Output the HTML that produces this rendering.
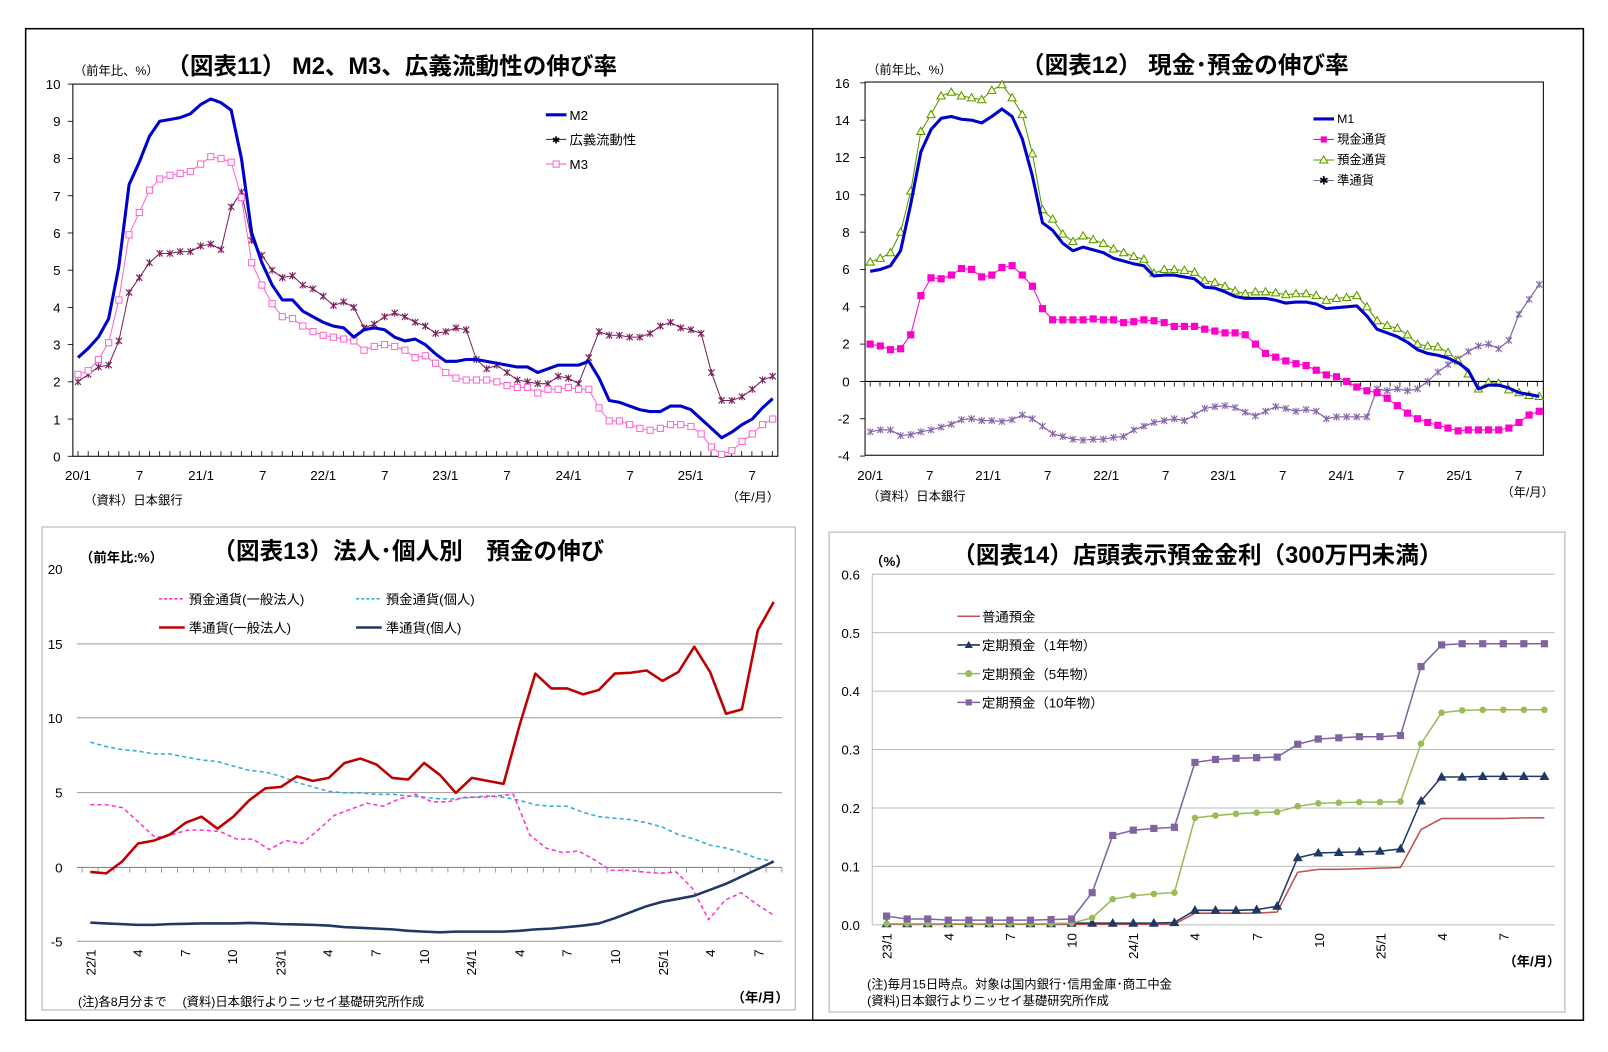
<!DOCTYPE html>
<html><head><meta charset="utf-8"><style>
html,body{margin:0;padding:0;background:#fff;}
svg{display:block;}
text{font-family:"Liberation Sans","Noto Sans CJK JP",sans-serif;fill:#000;}
.t{font-size:23px;font-weight:bold;}
.s{font-size:12px;}
.m{font-size:13px;}
.b{font-weight:bold;}
</style></head><body>
<svg id="svg" width="1608" height="1052" viewBox="0 0 1567 1026" preserveAspectRatio="none" xmlns="http://www.w3.org/2000/svg">
<rect x="0" y="0" width="1567" height="1026" fill="#fff"/>
<rect x="25" y="28" width="1518" height="967" fill="none" stroke="#000" stroke-width="1.5"/>
<line x1="792" y1="28" x2="792" y2="995" stroke="#000" stroke-width="1.2"/>

<!-- Chart 11 -->
<rect x="71" y="82" width="687" height="363" fill="none" stroke="#000" stroke-width="1"/>
<text x="162" y="72" class="t">（図表11） M2、M3、広義流動性の伸び率</text>
<text x="72" y="73" class="s">（前年比、%）</text>
<g class="m" text-anchor="end">
<text x="59" y="450">0</text><text x="59" y="414">1</text><text x="59" y="377">2</text><text x="59" y="341">3</text><text x="59" y="305">4</text><text x="59" y="268">5</text><text x="59" y="232">6</text><text x="59" y="196">7</text><text x="59" y="159">8</text><text x="59" y="123">9</text><text x="59" y="87">10</text>
</g>
<g class="m" text-anchor="middle">
<text x="76" y="468">20/1</text><text x="136" y="468">7</text><text x="196" y="468">21/1</text><text x="256" y="468">7</text><text x="315" y="468">22/1</text><text x="375" y="468">7</text><text x="434" y="468">23/1</text><text x="494" y="468">7</text><text x="554" y="468">24/1</text><text x="614" y="468">7</text><text x="673" y="468">25/1</text><text x="733" y="468">7</text>
</g>
<text x="82" y="492" class="s">（資料）日本銀行</text>
<text x="708" y="489" class="s">（年/月）</text>
<g class="m">
<line x1="532" y1="112" x2="552" y2="112" stroke="#0000cc" stroke-width="3"/><text x="555" y="117">M2</text>
<line x1="532" y1="136" x2="552" y2="136" stroke="#7a1f5c" stroke-width="1"/><text x="542" y="140" font-size="10" fill="#7a1f5c" text-anchor="middle">✱</text><text x="555" y="141">広義流動性</text>
<line x1="532" y1="160" x2="552" y2="160" stroke="#ff66cc" stroke-width="1"/><rect x="539" y="157" width="6" height="6" fill="#fff" stroke="#ff66cc"/><text x="555" y="165">M3</text>
</g>
<g id="c11"></g>

<!-- Chart 12 -->
<rect x="843" y="80" width="661" height="364" fill="none" stroke="#000" stroke-width="1"/>
<text x="995" y="71" class="t">（図表12） 現金･預金の伸び率</text>
<text x="845" y="72" class="s">（前年比、%）</text>
<g class="m" text-anchor="end">
<text x="828" y="449">-4</text><text x="828" y="413">-2</text><text x="828" y="377">0</text><text x="828" y="340">2</text><text x="828" y="304">4</text><text x="828" y="267">6</text><text x="828" y="231">8</text><text x="828" y="195">10</text><text x="828" y="158">12</text><text x="828" y="122">14</text><text x="828" y="86">16</text>
</g>
<g class="m" text-anchor="middle">
<text x="848" y="468">20/1</text><text x="906" y="468">7</text><text x="963" y="468">21/1</text><text x="1021" y="468">7</text><text x="1078" y="468">22/1</text><text x="1136" y="468">7</text><text x="1192" y="468">23/1</text><text x="1250" y="468">7</text><text x="1307" y="468">24/1</text><text x="1365" y="468">7</text><text x="1422" y="468">25/1</text><text x="1480" y="468">7</text>
</g>
<text x="845" y="488" class="s">（資料）日本銀行</text>
<text x="1463" y="484" class="s">（年/月）</text>
<g class="s">
<line x1="1280" y1="116" x2="1300" y2="116" stroke="#0000cc" stroke-width="3"/><text x="1303" y="120">M1</text>
<line x1="1280" y1="136" x2="1300" y2="136" stroke="#ff00cc"/><rect x="1287" y="133" width="6" height="6" fill="#ff00cc"/><text x="1303" y="140">現金通貨</text>
<line x1="1280" y1="156" x2="1300" y2="156" stroke="#559900"/><polygon points="1290,152 1294,159 1286,159" fill="#ffffcc" stroke="#559900"/><text x="1303" y="160">預金通貨</text>
<line x1="1280" y1="176" x2="1300" y2="176" stroke="#8866aa"/><text x="1290" y="180" font-size="11" fill="#8866aa" text-anchor="middle">✱</text><text x="1303" y="180">準通貨</text>
</g>
<g id="c12"></g>

<!-- Chart 13 -->
<rect x="41" y="514" width="734" height="471" fill="none" stroke="#bbb" stroke-width="1.2"/>
<text x="207" y="545" class="t" font-size="22">（図表13）法人･個人別　預金の伸び</text>
<text x="78" y="548" class="m b">（前年比:%）</text>
<g stroke="#999" stroke-width="1">
<line x1="75" y1="628" x2="762" y2="628"/><line x1="75" y1="700" x2="762" y2="700"/><line x1="75" y1="773" x2="762" y2="773"/><line x1="75" y1="918" x2="762" y2="918"/>
</g>
<line x1="75" y1="846" x2="762" y2="846" stroke="#888" stroke-width="1"/>
<g class="m" text-anchor="end">
<text x="61" y="560">20</text><text x="61" y="633">15</text><text x="61" y="705">10</text><text x="61" y="778">5</text><text x="61" y="851">0</text><text x="61" y="923" fill="#c00000">-5</text>
</g>
<g class="m">
<line x1="155" y1="584" x2="180" y2="584" stroke="#ff33cc" stroke-width="1.5" stroke-dasharray="3,2"/><text x="184" y="589">預金通貨(一般法人)</text>
<line x1="347" y1="584" x2="372" y2="584" stroke="#33aadd" stroke-width="1.5" stroke-dasharray="3,2"/><text x="376" y="589">預金通貨(個人)</text>
<line x1="155" y1="612" x2="180" y2="612" stroke="#c00000" stroke-width="2.5"/><text x="184" y="617">準通貨(一般法人)</text>
<line x1="347" y1="612" x2="372" y2="612" stroke="#1f3864" stroke-width="2.5"/><text x="376" y="617">準通貨(個人)</text>
</g>
<text x="76" y="981" class="s">(注)各8月分まで　 (資料)日本銀行よりニッセイ基礎研究所作成</text>
<text x="713" y="977" class="m b">（年/月）</text>
<g id="c13"></g>

<!-- Chart 14 -->
<rect x="808" y="519" width="717" height="468" fill="none" stroke="#bbb" stroke-width="1.2"/>
<text x="928" y="549" class="t" font-size="21.5">（図表14）店頭表示預金金利（300万円未満）</text>
<text x="848" y="552" class="m b">（%）</text>
<g stroke="#bbb" stroke-width="1">
<line x1="850" y1="560" x2="1515" y2="560"/><line x1="850" y1="617" x2="1515" y2="617"/><line x1="850" y1="674" x2="1515" y2="674"/><line x1="850" y1="731" x2="1515" y2="731"/><line x1="850" y1="788" x2="1515" y2="788"/><line x1="850" y1="845" x2="1515" y2="845"/><line x1="850" y1="902" x2="1515" y2="902"/>
</g>
<line x1="850" y1="560" x2="850" y2="902" stroke="#bbb"/>
<g class="m" text-anchor="end">
<text x="838" y="565">0.6</text><text x="838" y="622">0.5</text><text x="838" y="679">0.4</text><text x="838" y="736">0.3</text><text x="838" y="793">0.2</text><text x="838" y="850">0.1</text><text x="838" y="907">0.0</text>
</g>
<g class="m">
<line x1="933" y1="601" x2="955" y2="601" stroke="#c0504d" stroke-width="1.5"/><text x="957" y="606">普通預金</text>
<line x1="933" y1="629" x2="955" y2="629" stroke="#1f3864" stroke-width="1.5"/><polygon points="944,625 948,632 940,632" fill="#1f3864"/><text x="957" y="634">定期預金（1年物）</text>
<line x1="933" y1="657" x2="955" y2="657" stroke="#9bbb59" stroke-width="1.5"/><circle cx="944" cy="657" r="3.5" fill="#9bbb59"/><text x="957" y="662">定期預金（5年物）</text>
<line x1="933" y1="685" x2="955" y2="685" stroke="#8064a2" stroke-width="1.5"/><rect x="941" y="682" width="6" height="6" fill="#8064a2"/><text x="957" y="690">定期預金（10年物）</text>
</g>
<text x="845" y="964" class="s">(注)毎月15日時点。対象は国内銀行･信用金庫･商工中金</text>
<text x="845" y="980" class="s">(資料)日本銀行よりニッセイ基礎研究所作成</text>
<text x="1465" y="942" class="m b">（年/月）</text>
<g id="c14"></g>

<g class="m" text-anchor="end">
<text transform="translate(93,926) rotate(-90)">22/1</text><text transform="translate(139,926) rotate(-90)">4</text><text transform="translate(185,926) rotate(-90)">7</text><text transform="translate(231,926) rotate(-90)">10</text><text transform="translate(278,926) rotate(-90)">23/1</text><text transform="translate(324,926) rotate(-90)">4</text><text transform="translate(371,926) rotate(-90)">7</text><text transform="translate(418,926) rotate(-90)">10</text><text transform="translate(464,926) rotate(-90)">24/1</text><text transform="translate(511,926) rotate(-90)">4</text><text transform="translate(557,926) rotate(-90)">7</text><text transform="translate(604,926) rotate(-90)">10</text><text transform="translate(651,926) rotate(-90)">25/1</text><text transform="translate(697,926) rotate(-90)">4</text><text transform="translate(744,926) rotate(-90)">7</text>
<text transform="translate(869,910) rotate(-90)">23/1</text><text transform="translate(929,910) rotate(-90)">4</text><text transform="translate(989,910) rotate(-90)">7</text><text transform="translate(1049,910) rotate(-90)">10</text><text transform="translate(1109,910) rotate(-90)">24/1</text><text transform="translate(1169,910) rotate(-90)">4</text><text transform="translate(1230,910) rotate(-90)">7</text><text transform="translate(1290,910) rotate(-90)">10</text><text transform="translate(1350,910) rotate(-90)">25/1</text><text transform="translate(1410,910) rotate(-90)">4</text><text transform="translate(1470,910) rotate(-90)">7</text>
</g>
</svg>
<script>
var NS="http://www.w3.org/2000/svg";
function el(p,tag,a){var e=document.createElementNS(NS,tag);for(var k in a)e.setAttribute(k,a[k]);p.appendChild(e);return e;}
function series(gid,x0,x1,yf,d,o){
 var g=document.getElementById(gid),n=d.length,pts=[],dx=(x1-x0)/(n-1);
 for(var i=0;i<n;i++)pts.push([x0+i*dx,yf(d[i])]);
 el(g,"polyline",{points:pts.map(function(p){return p[0].toFixed(1)+","+p[1].toFixed(1)}).join(" "),fill:"none",stroke:o.c,"stroke-width":o.w||1,"stroke-dasharray":o.dash||"none","stroke-linejoin":"round"});
 if(o.m)pts.forEach(function(p){mark(g,o.m,p[0],p[1],o.c,o.f);});
}
function mark(g,m,x,y,c,f){
 var r=3;
 if(m=="sq")el(g,"rect",{x:x-r,y:y-r,width:2*r,height:2*r,fill:f||c,stroke:c,"stroke-width":1});
 else if(m=="tri")el(g,"polygon",{points:x+","+(y-4)+" "+(x+4)+","+(y+3)+" "+(x-4)+","+(y+3),fill:f||c,stroke:c,"stroke-width":1});
 else if(m=="ci")el(g,"circle",{cx:x,cy:y,r:3.2,fill:c});
 else if(m=="st"){var s=3;el(g,"path",{d:"M"+(x-s)+" "+(y-s)+"L"+(x+s)+" "+(y+s)+"M"+(x+s)+" "+(y-s)+"L"+(x-s)+" "+(y+s)+"M"+x+" "+(y-s-0.5)+"L"+x+" "+(y+s+0.5),stroke:c,"stroke-width":1.1,fill:"none"});}
}
(function(){var g=document.getElementById("c11");
for(var i=0;i<=68;i++){var x=76+i*9.95;el(g,"line",{x1:x,y1:445,x2:x,y2:440,stroke:"#000","stroke-width":0.8});}
for(var v=0;v<=10;v++){var y=445-v*36.3;el(g,"line",{x1:66,y1:y,x2:71,y2:y,stroke:"#000","stroke-width":0.8});}})();
var y11=function(v){return 445-v*36.3;};
series("c11",76,753,y11,[2.0,2.2,2.4,2.45,3.1,4.4,4.8,5.2,5.45,5.45,5.5,5.5,5.65,5.7,5.55,6.7,7.1,5.8,5.4,5.0,4.8,4.85,4.6,4.5,4.3,4.05,4.15,4.0,3.45,3.55,3.75,3.85,3.75,3.6,3.5,3.3,3.35,3.45,3.4,2.6,2.35,2.45,2.25,2.05,2.0,1.95,1.95,2.15,2.1,1.95,2.65,3.35,3.25,3.25,3.2,3.2,3.3,3.5,3.6,3.45,3.4,3.3,2.25,1.5,1.5,1.6,1.8,2.05,2.15],{c:"#7a1f5c",w:1,m:"st"});
series("c11",76,753,y11,[2.2,2.3,2.6,3.05,4.2,5.95,6.55,7.15,7.45,7.55,7.6,7.65,7.85,8.05,8.0,7.9,6.95,5.2,4.6,4.1,3.75,3.7,3.5,3.35,3.25,3.2,3.15,3.1,2.85,2.95,3.0,2.95,2.85,2.65,2.7,2.5,2.25,2.1,2.05,2.05,2.05,2.0,1.9,1.85,1.85,1.7,1.8,1.8,1.85,1.8,1.8,1.3,0.95,0.95,0.85,0.75,0.7,0.75,0.85,0.85,0.8,0.6,0.25,0.05,0.15,0.4,0.6,0.85,1.0],{c:"#ff66cc",w:1,m:"sq",f:"#fff"});
series("c11",76,753,y11,[2.65,2.9,3.2,3.7,5.1,7.3,7.9,8.6,9.0,9.05,9.1,9.2,9.45,9.6,9.5,9.3,8.0,6.0,5.2,4.6,4.2,4.2,3.9,3.75,3.6,3.5,3.45,3.2,3.4,3.45,3.4,3.2,3.1,3.15,3.0,2.75,2.55,2.55,2.6,2.6,2.55,2.5,2.45,2.4,2.4,2.25,2.35,2.45,2.45,2.45,2.55,2.1,1.5,1.45,1.35,1.25,1.2,1.2,1.35,1.35,1.25,1.0,0.75,0.5,0.65,0.85,1.0,1.3,1.55],{c:"#0000cc",w:3});
(function(){var g=document.getElementById("c12");
el(g,"line",{x1:843,y1:372,x2:1504,y2:372,stroke:"#000","stroke-width":1});
for(var i=0;i<=68;i++){var x=848+i*9.56;el(g,"line",{x1:x,y1:372,x2:x,y2:377,stroke:"#000","stroke-width":0.8});}
for(var v=-4;v<=16;v+=2){var y=372-v*18.2;el(g,"line",{x1:838,y1:y,x2:843,y2:y,stroke:"#000","stroke-width":0.8});}})();
var y12=function(v){return 372-v*18.2;};
series("c12",848,1500,y12,[-2.7,-2.6,-2.6,-2.9,-2.85,-2.7,-2.6,-2.45,-2.3,-2.05,-2.0,-2.1,-2.1,-2.15,-2.05,-1.8,-2.0,-2.4,-2.8,-2.95,-3.1,-3.15,-3.1,-3.1,-3.0,-2.95,-2.6,-2.4,-2.2,-2.1,-2.0,-2.1,-1.8,-1.45,-1.35,-1.3,-1.4,-1.65,-1.85,-1.6,-1.35,-1.45,-1.6,-1.5,-1.6,-2.0,-1.9,-1.9,-1.9,-1.9,-0.4,-0.5,-0.4,-0.5,-0.4,0.0,0.5,0.9,1.2,1.6,1.9,2.0,1.75,2.2,3.6,4.4,5.2],{c:"#8866aa",w:1.2,m:"st"});
series("c12",848,1500,y12,[2.0,1.9,1.7,1.75,2.5,4.6,5.55,5.5,5.7,6.05,6.0,5.6,5.7,6.1,6.2,5.7,5.1,3.9,3.3,3.3,3.3,3.3,3.35,3.3,3.3,3.15,3.2,3.3,3.25,3.15,2.95,2.95,2.95,2.8,2.7,2.6,2.6,2.5,2.0,1.5,1.3,1.1,0.95,0.85,0.6,0.35,0.25,0.0,-0.3,-0.5,-0.6,-0.9,-1.3,-1.7,-2.0,-2.2,-2.35,-2.5,-2.65,-2.6,-2.6,-2.6,-2.6,-2.5,-2.2,-1.8,-1.6],{c:"#ff00cc",w:1,m:"sq"});
series("c12",848,1500,y12,[6.4,6.6,6.9,8.0,10.2,13.4,14.3,15.3,15.5,15.3,15.2,15.1,15.6,15.9,15.2,14.3,12.2,9.2,8.7,7.9,7.5,7.8,7.6,7.4,7.1,6.9,6.7,6.55,5.8,6.0,6.0,5.95,5.85,5.4,5.3,5.1,4.85,4.7,4.8,4.8,4.75,4.65,4.7,4.7,4.6,4.35,4.45,4.5,4.6,4.0,3.25,3.0,2.85,2.5,2.0,1.9,1.85,1.55,1.1,0.4,-0.4,-0.05,-0.1,-0.45,-0.6,-0.75,-0.8],{c:"#559900",w:1,m:"tri",f:"#ffffcc"});
series("c12",848,1500,y12,[5.9,6.0,6.2,7.0,9.5,12.3,13.5,14.1,14.2,14.05,14.0,13.85,14.2,14.6,14.2,13.0,11.0,8.5,8.1,7.4,7.0,7.2,7.05,6.9,6.6,6.45,6.3,6.2,5.65,5.7,5.7,5.6,5.5,5.05,5.0,4.8,4.55,4.45,4.45,4.45,4.35,4.2,4.25,4.25,4.15,3.9,3.95,4.0,4.05,3.5,2.8,2.6,2.4,2.1,1.7,1.5,1.4,1.25,1.0,0.6,-0.4,-0.2,-0.2,-0.35,-0.6,-0.7,-0.8],{c:"#0000cc",w:3});
(function(){var g=document.getElementById("c13");
for(var i=0;i<=44;i++){var x=80+i*15.5;el(g,"line",{x1:x,y1:846,x2:x,y2:851,stroke:"#888","stroke-width":0.8});}})();
var y13=function(v){return 846-v*14.55;};
series("c13",88,754,y13,[8.4,8.1,7.9,7.8,7.6,7.6,7.4,7.2,7.1,6.8,6.5,6.4,6.1,5.7,5.4,5.1,5.0,5.0,4.9,4.9,4.8,4.7,4.6,4.6,4.7,4.8,4.7,4.5,4.2,4.1,4.1,3.7,3.4,3.3,3.2,3.0,2.7,2.2,1.9,1.5,1.3,1.0,0.6,0.4],{c:"#33aadd",w:1.5,dash:"4,3"});
series("c13",88,754,y13,[4.2,4.2,4.0,3.0,2.0,2.2,2.5,2.5,2.4,1.9,1.9,1.2,1.8,1.6,2.5,3.5,3.9,4.3,4.1,4.6,4.9,4.4,4.4,4.7,4.7,4.8,4.9,2.2,1.3,1.0,1.1,0.5,-0.2,-0.2,-0.3,-0.4,-0.3,-1.4,-3.5,-2.2,-1.7,-2.5,-3.2],{c:"#ff33cc",w:1.5,dash:"4,3"});
series("c13",88,754,y13,[-0.3,-0.4,0.4,1.6,1.8,2.2,3.0,3.4,2.6,3.4,4.5,5.3,5.4,6.1,5.8,6.0,7.0,7.3,6.9,6.0,5.9,7.0,6.2,5.0,6.0,5.8,5.6,9.5,13.0,12.0,12.0,11.6,11.9,13.0,13.05,13.2,12.5,13.1,14.8,13.1,10.3,10.6,15.9,17.8],{c:"#c00000",w:2.5});
series("c13",88,754,y13,[-3.7,-3.75,-3.8,-3.85,-3.85,-3.8,-3.78,-3.75,-3.75,-3.75,-3.72,-3.75,-3.8,-3.82,-3.85,-3.9,-4.0,-4.05,-4.1,-4.15,-4.25,-4.3,-4.35,-4.3,-4.3,-4.3,-4.3,-4.25,-4.15,-4.1,-4.0,-3.9,-3.75,-3.4,-3.0,-2.6,-2.3,-2.1,-1.9,-1.5,-1.1,-0.6,-0.1,0.4],{c:"#1f3864",w:2.5});
var y14=function(v){return 902-v*570;};
series("c14",864,1505,y14,[0.001,0.001,0.001,0.001,0.001,0.001,0.001,0.001,0.001,0.001,0.001,0.001,0.001,0.001,0.001,0.020,0.020,0.020,0.020,0.022,0.090,0.095,0.095,0.096,0.097,0.098,0.163,0.182,0.182,0.182,0.182,0.183,0.183],{c:"#c0504d",w:1.5});
series("c14",864,1505,y14,[0.002,0.002,0.002,0.002,0.002,0.002,0.002,0.002,0.002,0.003,0.003,0.003,0.003,0.003,0.004,0.025,0.025,0.025,0.026,0.032,0.115,0.123,0.124,0.125,0.126,0.130,0.212,0.253,0.253,0.254,0.254,0.254,0.254],{c:"#1f3864",w:1.5,m:"tri"});
series("c14",864,1505,y14,[0.002,0.002,0.002,0.002,0.002,0.002,0.002,0.002,0.002,0.003,0.012,0.044,0.050,0.053,0.055,0.183,0.187,0.190,0.192,0.193,0.203,0.208,0.209,0.210,0.210,0.211,0.31,0.363,0.367,0.368,0.368,0.368,0.368],{c:"#9bbb59",w:1.5,m:"ci"});
series("c14",864,1505,y14,[0.015,0.010,0.010,0.008,0.008,0.008,0.008,0.008,0.009,0.010,0.055,0.153,0.162,0.165,0.167,0.278,0.283,0.285,0.286,0.287,0.309,0.318,0.320,0.322,0.322,0.324,0.442,0.479,0.481,0.481,0.481,0.481,0.481],{c:"#8064a2",w:1.5,m:"sq"});
</script>
</body></html>
